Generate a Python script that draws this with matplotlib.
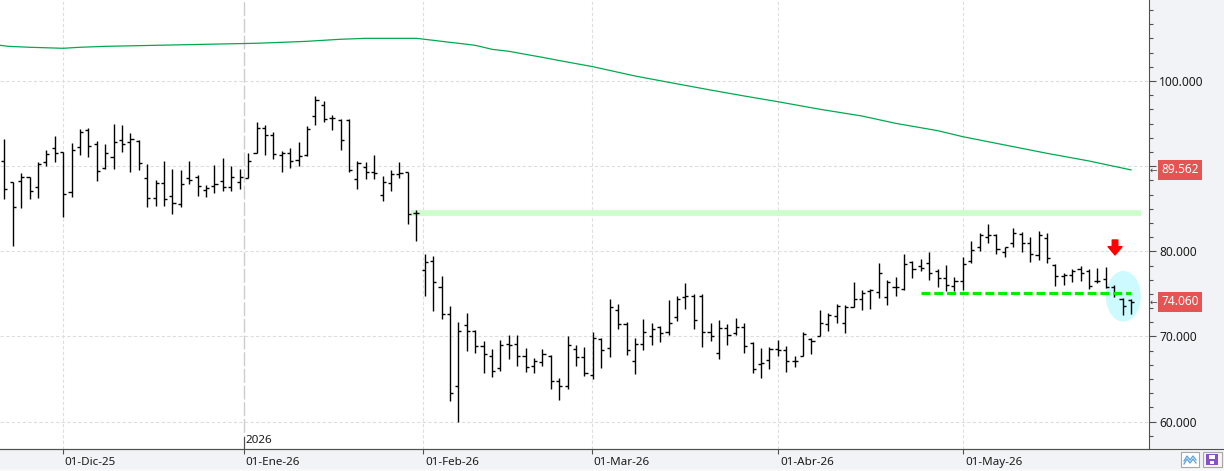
import matplotlib
matplotlib.use("Agg")
import matplotlib.pyplot as plt
from matplotlib.patches import Ellipse, Rectangle
from matplotlib.lines import Line2D
from matplotlib.ticker import MultipleLocator, FuncFormatter
from matplotlib.transforms import blended_transform_factory

plt.rcParams.update({"font.family": ["Noto Sans", "DejaVu Sans"]})

# daily OHLC bars (one per trading day, Nov-25 .. May-26)
opens = [90.61, 88.10, 88.26, 88.73, 87.52, 90.49, 92.10, 91.71, 86.93, 92.21,
         94.25, 92.61, 89.75, 91.04, 93.04, 92.84, 92.96, 88.57, 86.26, 87.99,
         86.46, 85.52, 88.57, 88.69, 87.20, 87.71, 88.26, 87.59, 88.10, 88.65,
         91.51, 94.44, 93.66, 91.31, 91.59, 90.73, 91.27, 95.89, 97.18, 95.62,
         95.38, 95.38, 88.50, 89.87, 89.32, 86.62, 88.03, 89.04, 89.36, 84.54,
         77.77, 78.90, 75.77, 72.64, 64.19, 71.31, 70.68, 68.84, 67.67, 66.26,
         69.08, 69.08, 67.67, 66.50, 66.97, 67.71, 64.73, 64.19, 68.53, 67.63,
         65.44, 69.67, 68.61, 73.07, 71.47, 67.08, 69.16, 70.02, 71.08, 70.53,
         72.25, 74.60, 74.75, 74.75, 70.53, 68.02, 70.96, 70.37, 71.08, 69.27,
         66.73, 67.24, 68.53, 68.45, 67.08, 67.75, 69.75, 70.06, 71.47, 72.45,
         71.55, 73.51, 74.37, 75.38, 75.23, 74.60, 75.85, 75.54, 78.75, 78.28,
         78.67, 77.69, 76.87, 75.93, 76.56, 78.91, 80.55, 81.65, 81.92, 79.96,
         80.94, 82.04, 80.94, 79.57, 81.53, 78.40, 77.11, 77.22, 77.89, 77.73,
         76.48, 76.71, 75.85, 74.37, 74.29]
highs = [93.15, 88.10, 89.16, 88.73, 90.49, 91.90, 93.54, 91.71, 92.76, 94.33,
         94.44, 92.96, 92.61, 94.95, 94.84, 93.86, 93.04, 90.26, 88.38, 90.61,
         89.63, 89.55, 90.61, 88.97, 87.75, 90.14, 90.92, 89.98, 89.63, 91.59,
         95.15, 94.84, 94.05, 91.82, 92.10, 92.80, 94.76, 98.24, 97.65, 96.05,
         95.50, 95.50, 90.61, 90.45, 91.27, 88.85, 89.55, 90.53, 89.36, 84.86,
         79.69, 79.49, 77.10, 73.58, 71.70, 72.76, 70.76, 69.47, 68.53, 69.59,
         70.14, 70.14, 68.65, 67.47, 68.53, 67.83, 65.17, 70.06, 69.00, 68.73,
         70.53, 69.82, 74.40, 73.82, 71.70, 69.86, 72.01, 71.58, 71.19, 74.25,
         74.75, 76.28, 74.95, 74.99, 71.54, 71.94, 71.51, 72.17, 71.62, 69.31,
         68.61, 68.81, 69.59, 68.88, 67.71, 70.57, 69.79, 73.11, 72.80, 73.78,
         73.70, 76.40, 75.46, 75.58, 78.67, 76.60, 77.03, 79.69, 78.87, 79.06,
         79.89, 77.89, 78.36, 77.03, 79.38, 81.18, 82.12, 83.17, 82.00, 80.55,
         82.70, 82.23, 81.72, 82.39, 82.12, 78.52, 77.50, 77.89, 78.28, 77.89,
         78.01, 78.12, 76.05, 74.56, 74.40]
lows = [86.11, 80.67, 85.13, 86.11, 86.23, 90.02, 90.53, 84.07, 86.42, 91.35,
        91.12, 88.30, 89.67, 89.71, 91.71, 89.36, 89.55, 85.25, 85.36, 85.36,
        84.42, 85.17, 87.87, 86.54, 86.34, 86.89, 87.09, 87.05, 87.32, 88.65,
        91.51, 91.31, 90.80, 89.36, 89.75, 90.06, 91.16, 94.80, 95.23, 94.29,
        91.94, 89.28, 87.28, 88.46, 88.50, 85.87, 87.13, 88.65, 83.17, 81.20,
        74.79, 73.03, 72.09, 62.46, 60.00, 68.34, 68.02, 65.75, 65.20, 65.99,
        67.32, 66.54, 65.87, 65.67, 66.57, 63.87, 62.58, 63.87, 66.54, 65.36,
        64.97, 66.34, 67.63, 70.84, 67.87, 65.63, 68.45, 69.04, 69.31, 70.21,
        71.86, 73.27, 70.92, 68.81, 69.43, 67.40, 68.96, 70.14, 68.10, 65.67,
        65.09, 66.14, 67.75, 65.87, 66.46, 67.75, 67.91, 70.06, 70.61, 71.55,
        70.45, 73.43, 73.11, 73.19, 74.48, 73.70, 74.76, 75.46, 76.91, 77.73,
        76.64, 75.77, 75.38, 75.38, 75.46, 78.59, 80.04, 80.94, 79.65, 79.38,
        80.55, 79.96, 78.79, 78.98, 78.63, 75.97, 76.05, 76.44, 76.52, 75.54,
        76.25, 75.70, 74.60, 72.53, 72.65]
closes = [87.28, 85.25, 88.77, 87.09, 90.26, 91.43, 91.55, 86.69, 91.90, 93.98,
          92.33, 89.43, 91.55, 92.84, 92.61, 93.15, 90.33, 86.26, 87.99, 86.15,
          85.64, 87.87, 88.38, 87.63, 87.48, 87.91, 87.59, 88.69, 88.77, 90.61,
          94.44, 93.66, 91.43, 91.59, 90.61, 91.16, 94.33, 97.77, 95.58, 95.66,
          93.04, 89.55, 90.37, 89.32, 89.20, 88.14, 89.04, 89.24, 84.35, 84.54,
          78.71, 76.36, 72.64, 63.33, 70.64, 70.64, 68.84, 67.90, 65.91, 68.96,
          68.96, 67.67, 66.38, 67.08, 67.94, 64.73, 64.19, 68.96, 67.55, 65.75,
          69.82, 68.41, 73.50, 71.47, 68.37, 69.16, 70.53, 70.88, 70.37, 71.54,
          74.36, 74.75, 71.90, 70.53, 70.10, 70.96, 70.14, 71.08, 68.84, 66.18,
          66.85, 68.53, 68.45, 67.08, 67.16, 70.30, 69.51, 71.55, 72.53, 73.58,
          73.43, 74.37, 75.07, 75.46, 77.50, 76.36, 75.77, 78.52, 77.89, 78.08,
          77.50, 76.91, 76.01, 76.56, 78.52, 80.16, 81.96, 81.96, 80.24, 80.47,
          82.12, 80.94, 79.69, 81.92, 79.18, 77.11, 77.22, 77.73, 77.50, 75.93,
          76.56, 75.77, 74.95, 73.58, 74.06]

# long moving average (green), read at selected bars
ma_idx = [-0.5, 0.5, 3, 7, 9, 12, 18, 24, 30, 33, 36, 38, 40, 43, 49, 51, 53,
          54, 56, 57, 58, 60, 62, 64, 66, 70, 75, 79, 84, 88, 92, 97, 102, 106,
          111, 114, 120, 124, 129, 134]
ma_val = [104.19, 104.07, 103.96, 103.84, 103.96, 104.07, 104.19, 104.31,
          104.43, 104.54, 104.66, 104.78, 104.90, 105.01, 105.01, 104.78,
          104.54, 104.43, 104.19, 103.96, 103.72, 103.49, 103.13, 102.78,
          102.40, 101.68, 100.59, 99.85, 98.94, 98.24, 97.57, 96.68, 95.89,
          95.03, 94.17, 93.46, 92.29, 91.51, 90.61, 89.562]

month_pos = [7.0, 28.5, 49.85, 69.85, 92.05, 114.05]
month_labels = ["01-Dic-25", "01-Ene-26", "01-Feb-26", "01-Mar-26", "01-Abr-26", "01-May-26"]
year_pos = 28.5
year_label = "2026"

resist_level = 84.53
resist_from, resist_to = 48.4, 135.2
support_level = 75.07
support_from, support_to = 109.0, 134.0
ma_last = 89.562
last_close = 74.06
arrow_bar, arrow_top, arrow_tip = 132.1, 81.33, 79.57
circle_bar, circle_val = 133.1, 74.72

W, H = 1224, 471
fig = plt.figure(figsize=(W / 100, H / 100), dpi=100, facecolor="#f2f3f6")
ax = fig.add_axes([0, 22 / H, 1149 / W, 449 / H])
ax.set_facecolor("white")
ax.set_xlim(-0.51, 136.14)
ax.set_ylim(56.79, 109.51)

n = len(opens)
idx = list(range(n))

# grid
for v in [60, 70, 80, 90, 100]:
    ax.axhline(v, color="#dedede", lw=0.8, dashes=(3, 2), zorder=0.5)
for p in month_pos:
    if p != year_pos:
        ax.axvline(p, color="#dedede", lw=0.8, dashes=(3, 2), zorder=0.5)
ax.axvline(year_pos, color="#cccccc", lw=1.0, dashes=(10, 2), zorder=0.5)

# annotations behind the bars
ax.hlines(resist_level, resist_from, resist_to, color="#ccffcc", lw=4.2, zorder=1)
ax.add_patch(Ellipse((circle_bar, circle_val), 4.16, 5.95, fc="#ccfaff", ec="none", zorder=1))

# moving average
ax.plot(ma_idx, ma_val, color="#00aa4f", lw=0.9, zorder=2)

# OHLC bars
tk = 0.37
ax.vlines(idx, lows, highs, color="black", lw=1.0, zorder=3)
ax.hlines(opens, [i - tk for i in idx], idx, color="black", lw=1.0, zorder=3)
ax.hlines(closes, idx, [i + tk for i in idx], color="black", lw=1.0, zorder=3)

# support dashed line and arrow
ax.hlines(support_level, support_from, support_to, color="#00ee00", lw=2.3,
          linestyles=(0, (2.8, 1.2)), zorder=4)
ax.annotate("", xy=(arrow_bar, arrow_tip), xytext=(arrow_bar, arrow_top),
            arrowprops=dict(arrowstyle="simple,head_width=1.0,head_length=0.6,tail_width=0.4",
                            color="#ff0000", shrinkA=0, shrinkB=0, mutation_scale=10),
            zorder=5)

# axes styling
for s in ["top", "left"]:
    ax.spines[s].set_visible(False)
ax.spines["right"].set_color("#505050")
ax.spines["bottom"].set_color("#505050")
ax.spines["right"].set_linewidth(0.8)
ax.spines["bottom"].set_linewidth(0.8)

ax.yaxis.tick_right()
ax.set_yticks([60, 70, 80, 90, 100])
ax.yaxis.set_minor_locator(MultipleLocator(10 / 6))
ax.yaxis.set_major_formatter(FuncFormatter(lambda v, p: "" if v == 90 else f"{v:.3f}"))
ax.tick_params(axis="y", which="major", length=5, width=0.8, color="#505050",
               labelsize=8.6, labelcolor="#1c1c1c", pad=2.5)
ax.tick_params(axis="y", which="minor", length=3, width=0.8, color="#505050")

ax.set_xticks(month_pos)
ax.tick_params(axis="x", length=3.8, width=0.8, color="#505050", labelbottom=False)

xt = ax.get_xaxis_transform()
for p, lab in zip(month_pos, month_labels):
    ax.text(p + 0.2, -0.029, lab, transform=xt, ha="left", va="center",
            fontsize=8.4, color="#1c1c1c", clip_on=False)
ax.axvline(year_pos, ymin=0, ymax=12 / 449, color="#505050", lw=0.8, zorder=3)
ax.text(year_pos + 0.2, 0.019, year_label, transform=xt, ha="left", va="center",
        fontsize=8.4, color="#1c1c1c")

# right side value boxes
tr = blended_transform_factory(fig.transFigure, ax.transData)
for v, s in [(ma_last, "89.562"), (last_close, "74.060")]:
    ax.text(1161 / W, v, s, transform=tr, ha="left", va="center", fontsize=8.6,
            color="white", clip_on=False,
            bbox=dict(boxstyle="square,pad=0.28", fc="#e65353", ec="none"))
    ax.text(1150 / W, v, "←", transform=tr, ha="left", va="center", fontsize=6.5,
            color="#444444", clip_on=False)
ax.text(1160 / W, 110, "110.000", transform=tr, ha="left", va="center", fontsize=8.6,
        color="#1c1c1c", clip_on=False)

# bottom strip
fig.add_artist(Line2D([0, 1], [22 / H, 22 / H], transform=fig.transFigure, color="#505050", lw=0.8))
fig.add_artist(Line2D([0, 1], [1.2 / H, 1.2 / H], transform=fig.transFigure, color="#fafafa", lw=1.2))

# two small buttons bottom-right
b1 = Rectangle((1181 / W, 4.5 / H), 18 / W, 14.5 / H, transform=fig.transFigure,
               fc="white", ec="#a8a8a8", lw=0.8)
b2 = Rectangle((1202.5 / W, 4.5 / H), 19 / W, 14.5 / H, transform=fig.transFigure,
               fc="#f4f4f4", ec="#a8a8a8", lw=0.8)
fig.add_artist(b1)
fig.add_artist(b2)
zx = [1184, 1187, 1190, 1193, 1196]
fig.add_artist(Line2D([x / W for x in zx], [v / H for v in [10, 15, 11, 15, 11]],
                      transform=fig.transFigure, color="#5aa0dc", lw=0.9))
fig.add_artist(Line2D([x / W for x in zx], [v / H for v in [7, 12, 8, 12, 8]],
                      transform=fig.transFigure, color="#5aa0dc", lw=0.9))
fig.add_artist(Rectangle((1206 / W, 6.5 / H), 11.5 / W, 11 / H, transform=fig.transFigure,
                         fc="#8a4fc6", ec="none"))
fig.add_artist(Rectangle((1208.5 / W, 12.5 / H), 6.5 / W, 4 / H, transform=fig.transFigure,
                         fc="white", ec="none"))
fig.add_artist(Rectangle((1209.5 / W, 7 / H), 4.5 / W, 3 / H, transform=fig.transFigure,
                         fc="white", ec="none"))

fig.savefig("out.png", dpi=100, facecolor=fig.get_facecolor())
